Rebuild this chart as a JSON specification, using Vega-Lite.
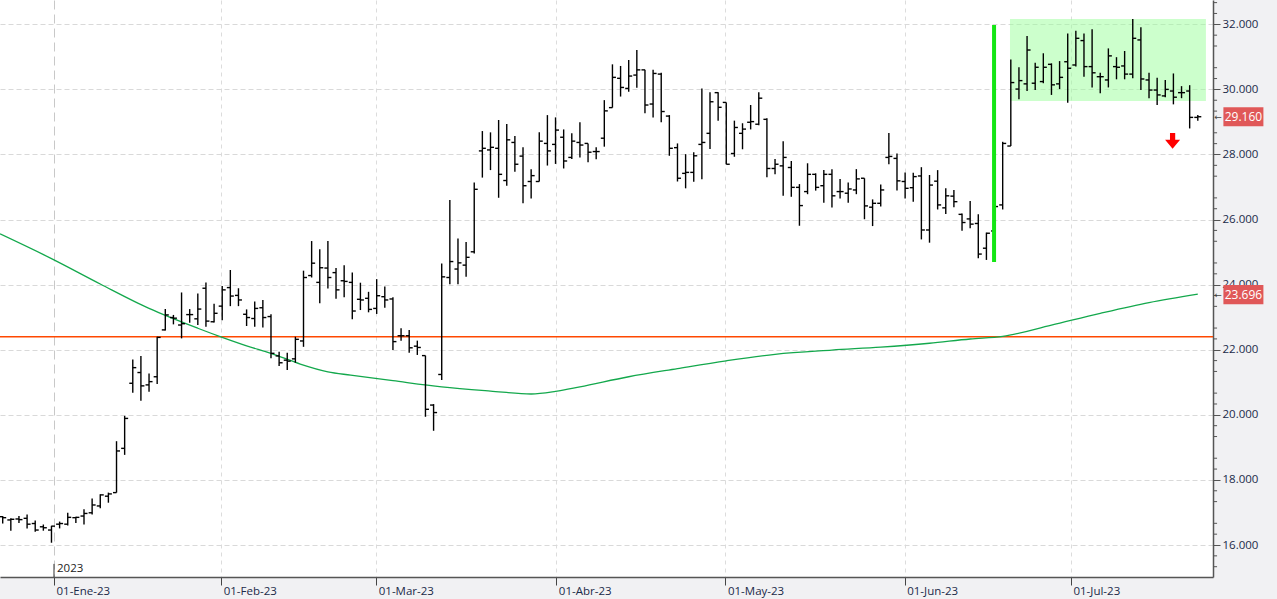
{
"$schema": "https://vega.github.io/schema/vega-lite/v6.json",
"width": 1213,
"height": 577,
"autosize": {"type": "none"},
"padding": {"left": 0, "top": 0, "right": 64, "bottom": 22},
"background": "#f1f1f3",
"view": {"fill": "#ffffff", "stroke": null},
"config": {"font": "Open Sans"},
"datasets": {
"ohlc": [
{"i":0,"o":16.87,"h":16.89,"l":16.66,"c":16.84},
{"i":1,"o":16.77,"h":16.82,"l":16.44,"c":16.79},
{"i":2,"o":16.80,"h":16.89,"l":16.68,"c":16.78},
{"i":3,"o":16.82,"h":16.94,"l":16.51,"c":16.64},
{"i":4,"o":16.66,"h":16.75,"l":16.41,"c":16.46},
{"i":5,"o":16.56,"h":16.63,"l":16.44,"c":16.53},
{"i":6,"o":16.46,"h":16.59,"l":16.07,"c":16.58},
{"i":7,"o":16.64,"h":16.72,"l":16.51,"c":16.66},
{"i":8,"o":16.64,"h":16.99,"l":16.60,"c":16.85},
{"i":9,"o":16.84,"h":16.87,"l":16.68,"c":16.85},
{"i":10,"o":16.89,"h":17.10,"l":16.63,"c":16.97},
{"i":11,"o":16.99,"h":17.43,"l":16.94,"c":17.23},
{"i":12,"o":17.20,"h":17.56,"l":17.13,"c":17.54},
{"i":13,"o":17.50,"h":17.61,"l":17.30,"c":17.57},
{"i":14,"o":17.61,"h":19.19,"l":17.61,"c":18.89},
{"i":15,"o":18.97,"h":19.97,"l":18.77,"c":19.89},
{"i":16,"o":20.97,"h":21.70,"l":20.68,"c":21.45},
{"i":17,"o":21.30,"h":21.81,"l":20.43,"c":20.89},
{"i":18,"o":20.92,"h":21.27,"l":20.71,"c":21.02},
{"i":19,"o":21.17,"h":22.40,"l":20.95,"c":22.38},
{"i":20,"o":22.61,"h":23.25,"l":22.59,"c":23.07},
{"i":21,"o":22.99,"h":23.07,"l":22.78,"c":22.97},
{"i":22,"o":22.76,"h":23.76,"l":22.35,"c":22.80},
{"i":23,"o":23.08,"h":23.25,"l":22.83,"c":23.08},
{"i":24,"o":22.95,"h":23.73,"l":22.76,"c":23.25},
{"i":25,"o":23.89,"h":24.07,"l":22.71,"c":22.88},
{"i":26,"o":22.86,"h":23.41,"l":22.84,"c":23.12},
{"i":27,"o":23.34,"h":23.96,"l":22.91,"c":23.84},
{"i":28,"o":23.91,"h":24.45,"l":23.34,"c":23.65},
{"i":29,"o":23.67,"h":23.89,"l":23.34,"c":23.53},
{"i":30,"o":23.09,"h":23.24,"l":22.73,"c":22.99},
{"i":31,"o":22.96,"h":23.48,"l":22.71,"c":23.27},
{"i":32,"o":23.29,"h":23.53,"l":22.68,"c":22.99},
{"i":33,"o":23.02,"h":23.09,"l":21.74,"c":21.89},
{"i":34,"o":21.81,"h":21.94,"l":21.50,"c":21.60},
{"i":35,"o":21.68,"h":21.91,"l":21.38,"c":21.65},
{"i":36,"o":21.72,"h":22.40,"l":21.60,"c":22.32},
{"i":37,"o":22.27,"h":24.43,"l":22.09,"c":24.22},
{"i":38,"o":24.28,"h":25.34,"l":24.22,"c":24.66},
{"i":39,"o":24.07,"h":25.09,"l":23.43,"c":24.52},
{"i":40,"o":24.51,"h":25.34,"l":23.88,"c":24.22},
{"i":41,"o":24.37,"h":24.51,"l":23.57,"c":23.84},
{"i":42,"o":24.12,"h":24.60,"l":23.61,"c":24.10},
{"i":43,"o":24.07,"h":24.37,"l":22.94,"c":23.19},
{"i":44,"o":23.55,"h":24.06,"l":23.22,"c":23.53},
{"i":45,"o":23.58,"h":23.78,"l":23.15,"c":23.24},
{"i":46,"o":23.27,"h":24.17,"l":23.10,"c":23.66},
{"i":47,"o":23.63,"h":23.94,"l":23.29,"c":23.53},
{"i":48,"o":23.56,"h":23.61,"l":21.99,"c":22.25},
{"i":49,"o":22.43,"h":22.66,"l":22.28,"c":22.43},
{"i":50,"o":22.43,"h":22.61,"l":21.91,"c":22.06},
{"i":51,"o":22.11,"h":22.28,"l":21.84,"c":22.07},
{"i":52,"o":21.82,"h":21.82,"l":19.94,"c":20.17},
{"i":53,"o":20.30,"h":20.33,"l":19.51,"c":20.07},
{"i":54,"o":21.24,"h":24.65,"l":21.07,"c":24.24},
{"i":55,"o":24.22,"h":26.60,"l":24.01,"c":24.71},
{"i":56,"o":24.48,"h":25.42,"l":24.01,"c":24.67},
{"i":57,"o":24.60,"h":25.31,"l":24.24,"c":24.84},
{"i":58,"o":25.01,"h":27.14,"l":24.96,"c":26.93},
{"i":59,"o":28.11,"h":28.72,"l":27.29,"c":28.19},
{"i":60,"o":28.14,"h":28.68,"l":27.52,"c":28.22},
{"i":61,"o":28.19,"h":29.06,"l":26.67,"c":27.39},
{"i":62,"o":27.20,"h":28.94,"l":27.04,"c":28.45},
{"i":63,"o":28.37,"h":28.57,"l":27.47,"c":27.70},
{"i":64,"o":27.95,"h":28.22,"l":26.50,"c":27.04},
{"i":65,"o":27.17,"h":27.55,"l":26.65,"c":27.35},
{"i":66,"o":27.17,"h":28.68,"l":27.17,"c":28.41},
{"i":67,"o":28.34,"h":29.21,"l":27.66,"c":28.11},
{"i":68,"o":28.31,"h":29.14,"l":27.71,"c":28.75},
{"i":69,"o":28.53,"h":28.77,"l":27.57,"c":27.80},
{"i":70,"o":27.91,"h":28.65,"l":27.86,"c":28.41},
{"i":71,"o":28.37,"h":28.99,"l":27.91,"c":28.29},
{"i":72,"o":28.34,"h":28.34,"l":27.76,"c":28.07},
{"i":73,"o":28.09,"h":28.22,"l":27.85,"c":28.09},
{"i":74,"o":28.50,"h":29.67,"l":28.24,"c":29.34},
{"i":75,"o":29.44,"h":30.77,"l":29.44,"c":30.37},
{"i":76,"o":30.34,"h":30.72,"l":29.78,"c":30.06},
{"i":77,"o":30.03,"h":30.90,"l":29.93,"c":30.41},
{"i":78,"o":30.44,"h":31.21,"l":30.05,"c":30.60},
{"i":79,"o":30.60,"h":30.60,"l":29.27,"c":29.52},
{"i":80,"o":29.55,"h":30.60,"l":29.14,"c":30.49},
{"i":81,"o":30.47,"h":30.51,"l":28.99,"c":29.32},
{"i":82,"o":29.18,"h":29.21,"l":27.96,"c":28.19},
{"i":83,"o":28.21,"h":28.34,"l":27.17,"c":27.27},
{"i":84,"o":27.42,"h":28.01,"l":26.96,"c":27.45},
{"i":85,"o":27.45,"h":28.07,"l":27.16,"c":27.96},
{"i":86,"o":28.31,"h":30.03,"l":27.24,"c":28.37},
{"i":87,"o":28.65,"h":29.91,"l":28.17,"c":29.62},
{"i":88,"o":29.90,"h":29.91,"l":29.04,"c":29.45},
{"i":89,"o":29.60,"h":29.60,"l":27.70,"c":27.70},
{"i":90,"o":28.03,"h":29.04,"l":27.93,"c":28.83},
{"i":91,"o":28.65,"h":28.96,"l":28.16,"c":28.78},
{"i":92,"o":28.99,"h":29.52,"l":28.77,"c":29.01},
{"i":93,"o":28.93,"h":29.91,"l":28.90,"c":29.73},
{"i":94,"o":29.08,"h":29.11,"l":27.30,"c":27.57},
{"i":95,"o":27.57,"h":27.86,"l":27.39,"c":27.70},
{"i":96,"o":27.65,"h":28.41,"l":26.73,"c":27.91},
{"i":97,"o":27.60,"h":27.80,"l":26.70,"c":26.99},
{"i":98,"o":26.99,"h":27.09,"l":25.81,"c":26.43},
{"i":99,"o":26.86,"h":27.73,"l":26.78,"c":27.39},
{"i":100,"o":27.39,"h":27.42,"l":26.89,"c":26.99},
{"i":101,"o":27.04,"h":27.52,"l":26.52,"c":27.39},
{"i":102,"o":27.39,"h":27.55,"l":26.37,"c":26.73},
{"i":103,"o":26.86,"h":27.25,"l":26.65,"c":26.86},
{"i":104,"o":26.81,"h":27.14,"l":26.52,"c":26.94},
{"i":105,"o":26.91,"h":27.55,"l":26.78,"c":27.25},
{"i":106,"o":27.27,"h":27.27,"l":26.01,"c":26.42},
{"i":107,"o":26.38,"h":26.62,"l":25.80,"c":26.50},
{"i":108,"o":26.50,"h":27.08,"l":26.40,"c":26.91},
{"i":109,"o":27.91,"h":28.66,"l":27.70,"c":27.94},
{"i":110,"o":27.88,"h":28.03,"l":26.89,"c":27.19},
{"i":111,"o":27.17,"h":27.45,"l":26.65,"c":26.96},
{"i":112,"o":26.98,"h":27.44,"l":26.55,"c":27.32},
{"i":113,"o":27.34,"h":27.61,"l":25.39,"c":25.68},
{"i":114,"o":25.68,"h":27.37,"l":25.29,"c":27.06},
{"i":115,"o":27.18,"h":27.52,"l":26.31,"c":26.45},
{"i":116,"o":26.36,"h":26.96,"l":26.17,"c":26.73},
{"i":117,"o":26.72,"h":26.91,"l":26.38,"c":26.55},
{"i":118,"o":26.16,"h":26.19,"l":25.66,"c":25.91},
{"i":119,"o":26.02,"h":26.57,"l":25.73,"c":25.86},
{"i":120,"o":25.88,"h":26.16,"l":24.81,"c":24.94},
{"i":121,"o":25.12,"h":25.60,"l":24.76,"c":25.58},
{"i":122,"o":25.65,"h":26.50,"l":25.55,"c":26.40},
{"i":123,"o":26.45,"h":28.39,"l":26.31,"c":28.34},
{"i":124,"o":28.26,"h":30.92,"l":28.26,"c":30.21},
{"i":125,"o":30.01,"h":30.68,"l":29.70,"c":30.27},
{"i":126,"o":30.17,"h":31.64,"l":29.95,"c":31.21},
{"i":127,"o":30.19,"h":30.82,"l":29.98,"c":30.68},
{"i":128,"o":30.24,"h":31.11,"l":30.19,"c":30.68},
{"i":129,"o":30.77,"h":30.80,"l":29.83,"c":30.14},
{"i":130,"o":30.17,"h":30.87,"l":30.01,"c":30.37},
{"i":131,"o":30.85,"h":31.72,"l":29.59,"c":30.65},
{"i":132,"o":30.75,"h":31.80,"l":30.70,"c":31.57},
{"i":133,"o":31.50,"h":31.72,"l":30.39,"c":30.70},
{"i":134,"o":30.70,"h":31.85,"l":30.06,"c":30.51},
{"i":135,"o":30.39,"h":30.51,"l":29.88,"c":30.39},
{"i":136,"o":30.29,"h":31.26,"l":30.06,"c":31.03},
{"i":137,"o":30.70,"h":30.99,"l":30.31,"c":30.68},
{"i":138,"o":30.72,"h":31.18,"l":30.31,"c":30.47},
{"i":139,"o":30.47,"h":32.16,"l":30.34,"c":31.57},
{"i":140,"o":31.52,"h":31.91,"l":29.98,"c":30.32},
{"i":141,"o":30.29,"h":30.51,"l":29.73,"c":29.98},
{"i":142,"o":29.98,"h":30.36,"l":29.52,"c":29.83},
{"i":143,"o":29.80,"h":30.29,"l":29.76,"c":30.00},
{"i":144,"o":29.95,"h":30.49,"l":29.54,"c":29.76},
{"i":145,"o":29.90,"h":30.10,"l":29.73,"c":29.90},
{"i":146,"o":29.95,"h":30.13,"l":28.80,"c":29.14},
{"i":147,"o":29.14,"h":29.21,"l":29.04,"c":29.16}
],
"ma": [
{"i":-0.33,"v":25.56},{"i":6,"v":24.80},{"i":12,"v":24.02},{"i":18,"v":23.27},{"i":24,"v":22.66},
{"i":27,"v":22.38},{"i":30,"v":22.12},{"i":33,"v":21.89},{"i":36.6,"v":21.56},{"i":40,"v":21.32},
{"i":42.8,"v":21.22},{"i":48,"v":21.05},{"i":54,"v":20.86},{"i":60,"v":20.73},{"i":65,"v":20.64},
{"i":68,"v":20.72},{"i":71,"v":20.86},{"i":77,"v":21.17},{"i":83,"v":21.42},{"i":89,"v":21.66},
{"i":95,"v":21.86},{"i":102,"v":21.99},{"i":108,"v":22.08},{"i":114,"v":22.20},{"i":119,"v":22.33},
{"i":123,"v":22.41},{"i":129,"v":22.76},{"i":135,"v":23.12},{"i":141,"v":23.45},{"i":147,"v":23.71}
],
"minor": [
{"m":15.3333},{"m":15.6667},{"m":16.3333},{"m":16.6667},{"m":17.3333},{"m":17.6667},{"m":18.3333},{"m":18.6667},
{"m":19.3333},{"m":19.6667},{"m":20.3333},{"m":20.6667},{"m":21.3333},{"m":21.6667},{"m":22.3333},{"m":22.6667},
{"m":23.3333},{"m":23.6667},{"m":24.3333},{"m":24.6667},{"m":25.3333},{"m":25.6667},{"m":26.3333},{"m":26.6667},
{"m":27.3333},{"m":27.6667},{"m":28.3333},{"m":28.6667},{"m":29.3333},{"m":29.6667},{"m":30.3333},{"m":30.6667},
{"m":31.3333},{"m":31.6667},{"m":32.3333},{"m":32.6667}
],
"labels": [{"t":"29.160","v":29.16},{"t":"23.696","v":23.696}]
},
"layer": [
{
"data": {"values": [{"i":123.9,"i2":148.0,"v":29.64,"v2":32.16}]},
"mark": {"type":"rect","color":"#99ff99","opacity":0.5},
"encoding": {
"x": {"field":"i","type":"quantitative","title":null,"scale":{"domain":[-0.332,148.87],"nice":false,"zero":false},
"axis": {"orient":"bottom","values":[6.31,26.87,45.95,68.1,88.9,110.95,131.4],
"labelExpr":"datum.value < 10 ? '01-Ene-23' : datum.value < 30 ? '01-Feb-23' : datum.value < 50 ? '01-Mar-23' : datum.value < 70 ? '01-Abr-23' : datum.value < 100 ? '01-May-23' : datum.value < 120 ? '01-Jun-23' : '01-Jul-23'",
"labelAlign":"left","labelBaseline":"top","labelPadding":0,"labelOffset":2,"labelFont":"Open Sans","labelFontSize":11.5,"labelColor":"#1b2a49","labelFlush":false,"labelOverlap":false,
"tickSize":8,"tickColor":"#444444","tickWidth":1,"domainColor":"#555555","domainWidth":1.5,
"grid":true,"gridColor":{"condition":{"test":"datum.value < 10","value":"#c8c8c8"},"value":"#dcdcdc"},"gridDash":{"condition":{"test":"datum.value < 10","value":[9,5]},"value":[4,4]},"gridWidth":1,"title":null}},
"x2": {"field":"i2"},
"y": {"field":"v","type":"quantitative","title":null,
"scale":{"domain":[15.017,32.747],"nice":false,"zero":false},
"axis": {"orient":"right","values":[16,17,18,19,20,21,22,23,24,25,26,27,28,29,30,31,32],
"format":".3f",
"labelFont":"Open Sans","labelFontSize":11.5,"labelColor":"#1b2a49","labelPadding":2,"labelFlush":false,"labelOverlap":false,"labelBaseline":"middle",
"tickSize":7,"tickColor":"#555555","tickWidth":1,
"domainColor":"#555555","domainWidth":1.5,
"grid":true,"gridDash":[5,3],"gridColor":"#d9d9d9","title":null}},
"y2": {"field":"v2"}
}
},
{
"data": {"values": [{"v":22.4}]},
"mark": {"type":"rule","color":"#ff4800","strokeWidth":1.3},
"encoding": {
"y": {"field":"v","type":"quantitative","title":null,"scale":{"domain":[15.017,32.747],"nice":false,"zero":false}}
}
},
{
"data": {"name":"ma"},
"mark": {"type":"line","color":"#13a84c","strokeWidth":1.3,"interpolate":"monotone"},
"encoding": {
"x": {"field":"i","type":"quantitative","title":null,"scale":{"domain":[-0.332,148.87],"nice":false,"zero":false}},
"y": {"field":"v","type":"quantitative","title":null,"scale":{"domain":[15.017,32.747],"nice":false,"zero":false}}
}
},
{
"data": {"name":"ohlc"},
"mark": {"type":"rule","color":"#000000","strokeWidth":1.4},
"encoding": {
"x": {"field":"i","type":"quantitative","title":null,"scale":{"domain":[-0.332,148.87],"nice":false,"zero":false}},
"y": {"field":"l","type":"quantitative","title":null,"scale":{"domain":[15.017,32.747],"nice":false,"zero":false}},
"y2": {"field":"h"}
}
},
{
"data": {"name":"ohlc"},
"mark": {"type":"rule","color":"#000000","strokeWidth":1.4,"xOffset":-3.5,"x2Offset":0},
"encoding": {
"x": {"field":"i","type":"quantitative","title":null,"scale":{"domain":[-0.332,148.87],"nice":false,"zero":false}},
"x2": {"field":"i"},
"y": {"field":"o","type":"quantitative","title":null,"scale":{"domain":[15.017,32.747],"nice":false,"zero":false}}
}
},
{
"data": {"name":"ohlc"},
"mark": {"type":"rule","color":"#000000","strokeWidth":1.4,"xOffset":0,"x2Offset":3.5},
"encoding": {
"x": {"field":"i","type":"quantitative","title":null,"scale":{"domain":[-0.332,148.87],"nice":false,"zero":false}},
"x2": {"field":"i"},
"y": {"field":"c","type":"quantitative","title":null,"scale":{"domain":[15.017,32.747],"nice":false,"zero":false}}
}
},
{
"data": {"values": [{"i":121.94,"v":24.7,"v2":31.98}]},
"mark": {"type":"rule","color":"#14e614","strokeWidth":4},
"encoding": {
"x": {"field":"i","type":"quantitative","title":null,"scale":{"domain":[-0.332,148.87],"nice":false,"zero":false}},
"y": {"field":"v","type":"quantitative","title":null,"scale":{"domain":[15.017,32.747],"nice":false,"zero":false}},
"y2": {"field":"v2"}
}
},
{
"data": {"values": [{"i":143.9,"v":28.42}]},
"mark": {"type":"point","shape":"M-0.33,-1L0.33,-1L0.33,-0.15L0.95,-0.15L0,1L-0.95,-0.15L-0.33,-0.15Z","filled":true,"color":"#ff0000","opacity":1,"size":250,"strokeWidth":0},
"encoding": {
"x": {"field":"i","type":"quantitative","title":null,"scale":{"domain":[-0.332,148.87],"nice":false,"zero":false}},
"y": {"field":"v","type":"quantitative","title":null,"scale":{"domain":[15.017,32.747],"nice":false,"zero":false}}
}
},
{
"data": {"name":"minor"},
"mark": {"type":"rule","color":"#555555","strokeWidth":1},
"encoding": {
"x": {"datum":148.87,"type":"quantitative","title":null,"scale":{"domain":[-0.332,148.87],"nice":false,"zero":false}},
"x2": {"datum":149.37},
"y": {"field":"m","type":"quantitative","title":null,"scale":{"domain":[15.017,32.747],"nice":false,"zero":false}}
}
},
{
"data": {"name":"labels"},
"mark": {"type":"point","shape":"M-1,-0.48L1,-0.48L1,0.48L-1,0.48Z","filled":true,"color":"#e05858","opacity":1,"size":1600,"strokeWidth":0},
"encoding": {
"x": {"datum":152.61,"type":"quantitative","title":null,"scale":{"domain":[-0.332,148.87],"nice":false,"zero":false}},
"y": {"field":"v","type":"quantitative","title":null,"scale":{"domain":[15.017,32.747],"nice":false,"zero":false}}
}
},
{
"data": {"name":"labels"},
"mark": {"type":"text","color":"#ffffff","font":"Open Sans","fontSize":12,"align":"center","baseline":"middle"},
"encoding": {
"x": {"datum":152.61,"type":"quantitative","title":null,"scale":{"domain":[-0.332,148.87],"nice":false,"zero":false}},
"y": {"field":"v","type":"quantitative","title":null,"scale":{"domain":[15.017,32.747],"nice":false,"zero":false}},
"text": {"field":"t"}
}
},
{
"data": {"name":"labels"},
"mark": {"type":"text","color":"#444444","font":"DejaVu Sans","fontSize":9,"align":"center","baseline":"middle"},
"encoding": {
"x": {"datum":149.5,"type":"quantitative","title":null,"scale":{"domain":[-0.332,148.87],"nice":false,"zero":false}},
"y": {"field":"v","type":"quantitative","title":null,"scale":{"domain":[15.017,32.747],"nice":false,"zero":false}},
"text": {"value":"←"}
}
},
{
"data": {"values": [{"t":"2023"}]},
"mark": {"type":"text","color":"#222222","font":"Open Sans","fontSize":11.5,"align":"left","baseline":"middle","dx":3},
"encoding": {
"x": {"datum":6.31,"type":"quantitative","title":null,"scale":{"domain":[-0.332,148.87],"nice":false,"zero":false}},
"y": {"datum":15.25,"type":"quantitative","title":null,"scale":{"domain":[15.017,32.747],"nice":false,"zero":false}},
"text": {"field":"t"}
}
},
{
"data": {"values": [{"t":"2023"}]},
"mark": {"type":"rule","color":"#333333","strokeWidth":1},
"encoding": {
"x": {"datum":6.31,"type":"quantitative","title":null,"scale":{"domain":[-0.332,148.87],"nice":false,"zero":false}},
"y": {"datum":15.017,"type":"quantitative","title":null,"scale":{"domain":[15.017,32.747],"nice":false,"zero":false}},
"y2": {"datum":15.42}
}
}
]
}
